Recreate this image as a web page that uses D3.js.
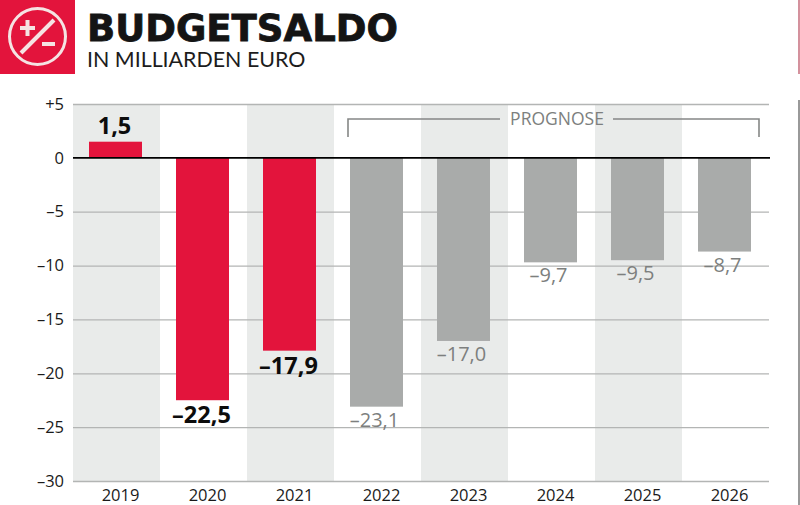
<!DOCTYPE html>
<html>
<head>
<meta charset="utf-8">
<script src="https://cdn.jsdelivr.net/npm/d3@7"></script>
<style>
  body { margin: 0; background: #fff; }
  svg { display: block; }
  text { font-family: "Open Sans", sans-serif; }
</style>
</head>
<body>
<svg id="chart" width="800" height="505"></svg>
<script>
// donnees
var years = ['2019', '2020', '2021', '2022', '2023', '2024', '2025', '2026'];
var saldo = [1.5, -22.5, -17.9, -23.1, -17.0, -9.7, -9.5, -8.7];
var saldoLabels = ['1,5', '–22,5', '–17,9', '–23,1', '–17,0', '–9,7', '–9,5', '–8,7'];
var forecast = [false, false, false, true, true, true, true, true];
var yTicks = [5, 0, -5, -10, -15, -20, -25, -30];
var yTickLabels = ['+5', '0', '–5', '–10', '–15', '–20', '–25', '–30'];

var RED = '#e3143c', GREY = '#a9abaa', BAND = '#e9ebea', GRID = '#b3b5b4';

var svg = d3.select('#chart');

// scales
var x = d3.scaleBand().domain(years).range([73, 769]);
var y = d3.scaleLinear().domain([5, -30]).range([104, 481]);
var barW = 53;
var barX = function(d) { return x(d) + (x.bandwidth() - barW) / 2 - 1; };

// bandes de fond, une annee sur deux
svg.append('g').selectAll('rect')
  .data(years.filter(function(d, i) { return i % 2 == 0; }))
  .enter().append('rect')
  .attr('x', function(d) { return x(d); })
  .attr('y', y(5))
  .attr('width', x.bandwidth())
  .attr('height', y(-30) - y(5))
  .attr('fill', BAND);

// axe y
var yAxis = d3.axisLeft(y)
  .tickValues(yTicks)
  .tickSize(0)
  .tickPadding(9)
  .tickFormat(function(d) { return yTickLabels[yTicks.indexOf(d)]; });
var gy = svg.append('g').attr('transform', 'translate(73,0)').call(yAxis);
gy.select('.domain').remove();
gy.selectAll('text').attr('font-size', 16.5).attr('fill', '#1a1a1a');
gy.selectAll('.tick').filter(function(d) { return d != 0; }).append('line')
  .attr('x2', 696)
  .attr('stroke', GRID)
  .attr('stroke-width', 1.3);

// barres
svg.append('g').selectAll('rect')
  .data(years)
  .enter().append('rect')
  .attr('x', barX)
  .attr('width', barW)
  .attr('y', function(d, i) { return Math.min(y(saldo[i]), y(0)); })
  .attr('height', function(d, i) { return Math.abs(y(saldo[i]) - y(0)); })
  .attr('fill', function(d, i) { return forecast[i] ? GREY : RED; });

// ligne du zero
svg.append('line')
  .attr('x1', 73).attr('x2', 770)
  .attr('y1', y(0)).attr('y2', y(0))
  .attr('stroke', '#000')
  .attr('stroke-width', 1.6);

// valeurs
svg.append('g').selectAll('text')
  .data(years)
  .enter().append('text')
  .attr('x', function(d, i) { return barX(d) + barW / 2 + (forecast[i] ? -2 : -1); })
  .attr('y', function(d, i) {
    if (saldo[i] > 0) return y(saldo[i]) - 8;
    return y(saldo[i]) + (forecast[i] ? 20 : 23);
  })
  .attr('text-anchor', 'middle')
  .attr('font-size', function(d, i) { return forecast[i] ? 20 : 23.5; })
  .attr('font-weight', function(d, i) { return forecast[i] ? 400 : 700; })
  .attr('fill', function(d, i) { return forecast[i] ? '#7d7f7e' : '#0c0c0c'; })
  .text(function(d, i) { return saldoLabels[i]; });

// axe x
var xAxis = d3.axisBottom(x).tickSize(0).tickPadding(8);
var gx = svg.append('g').attr('transform', 'translate(4,' + y(-30) + ')').call(xAxis);
gx.select('.domain').remove();
gx.selectAll('text').attr('font-size', 16.5).attr('fill', '#1a1a1a');

// accolade prognose
var progLeft = barX('2022') - 2, progRight = barX('2026') + barW + 8;
var progY = 119, progEnd = 137;
var bracket = svg.append('g').attr('fill', 'none').attr('stroke', '#858786').attr('stroke-width', 1.6);
bracket.append('path').attr('d', 'M' + progLeft + ',' + progEnd + 'V' + progY + 'H500');
bracket.append('path').attr('d', 'M613,' + progY + 'H' + progRight + 'V' + progEnd);
svg.append('text')
  .attr('x', 557).attr('y', 125)
  .attr('text-anchor', 'middle')
  .attr('font-size', 17.5)
  .attr('fill', '#7d7f7e')
  .text('PROGNOSE');

// entete
svg.append('rect').attr('width', 75).attr('height', 74).attr('fill', RED);
var icon = svg.append('g').attr('fill', 'none').attr('stroke', '#f5e3e3').attr('stroke-width', 3);
icon.append('circle').attr('cx', 37.5).attr('cy', 36.5).attr('r', 28);
icon.append('path').attr('d', 'M21,53L54,20').attr('stroke-width', 4);
icon.append('path').attr('d', 'M20,28H35M27.5,20V36').attr('stroke-width', 4);
icon.append('path').attr('d', 'M42,44H55').attr('stroke-width', 4);

svg.append('text')
  .attr('x', 87).attr('y', 40.5)
  .style('font-family', '"DejaVu Sans", sans-serif')
  .attr('font-size', 37)
  .attr('font-weight', 700)
  .attr('stroke', '#141414')
  .attr('stroke-width', 0.8)
  .attr('fill', '#141414')
  .text('BUDGETSALDO');
svg.append('text')
  .attr('x', 87).attr('y', 67)
  .style('font-family', 'Lato, sans-serif')
  .attr('font-size', 21.4)
  .attr('fill', '#1c1c1c')
  .text('IN MILLIARDEN EURO');

// bords droits du scan
svg.append('line')
  .attr('x1', 799).attr('x2', 799)
  .attr('y1', 100).attr('y2', 505)
  .attr('stroke', '#555')
  .attr('stroke-width', 1.2);
svg.append('line')
  .attr('x1', 799).attr('x2', 799)
  .attr('y1', 0).attr('y2', 74)
  .attr('stroke', '#b8485c')
  .attr('stroke-width', 1.2);
</script>
</body>
</html>
